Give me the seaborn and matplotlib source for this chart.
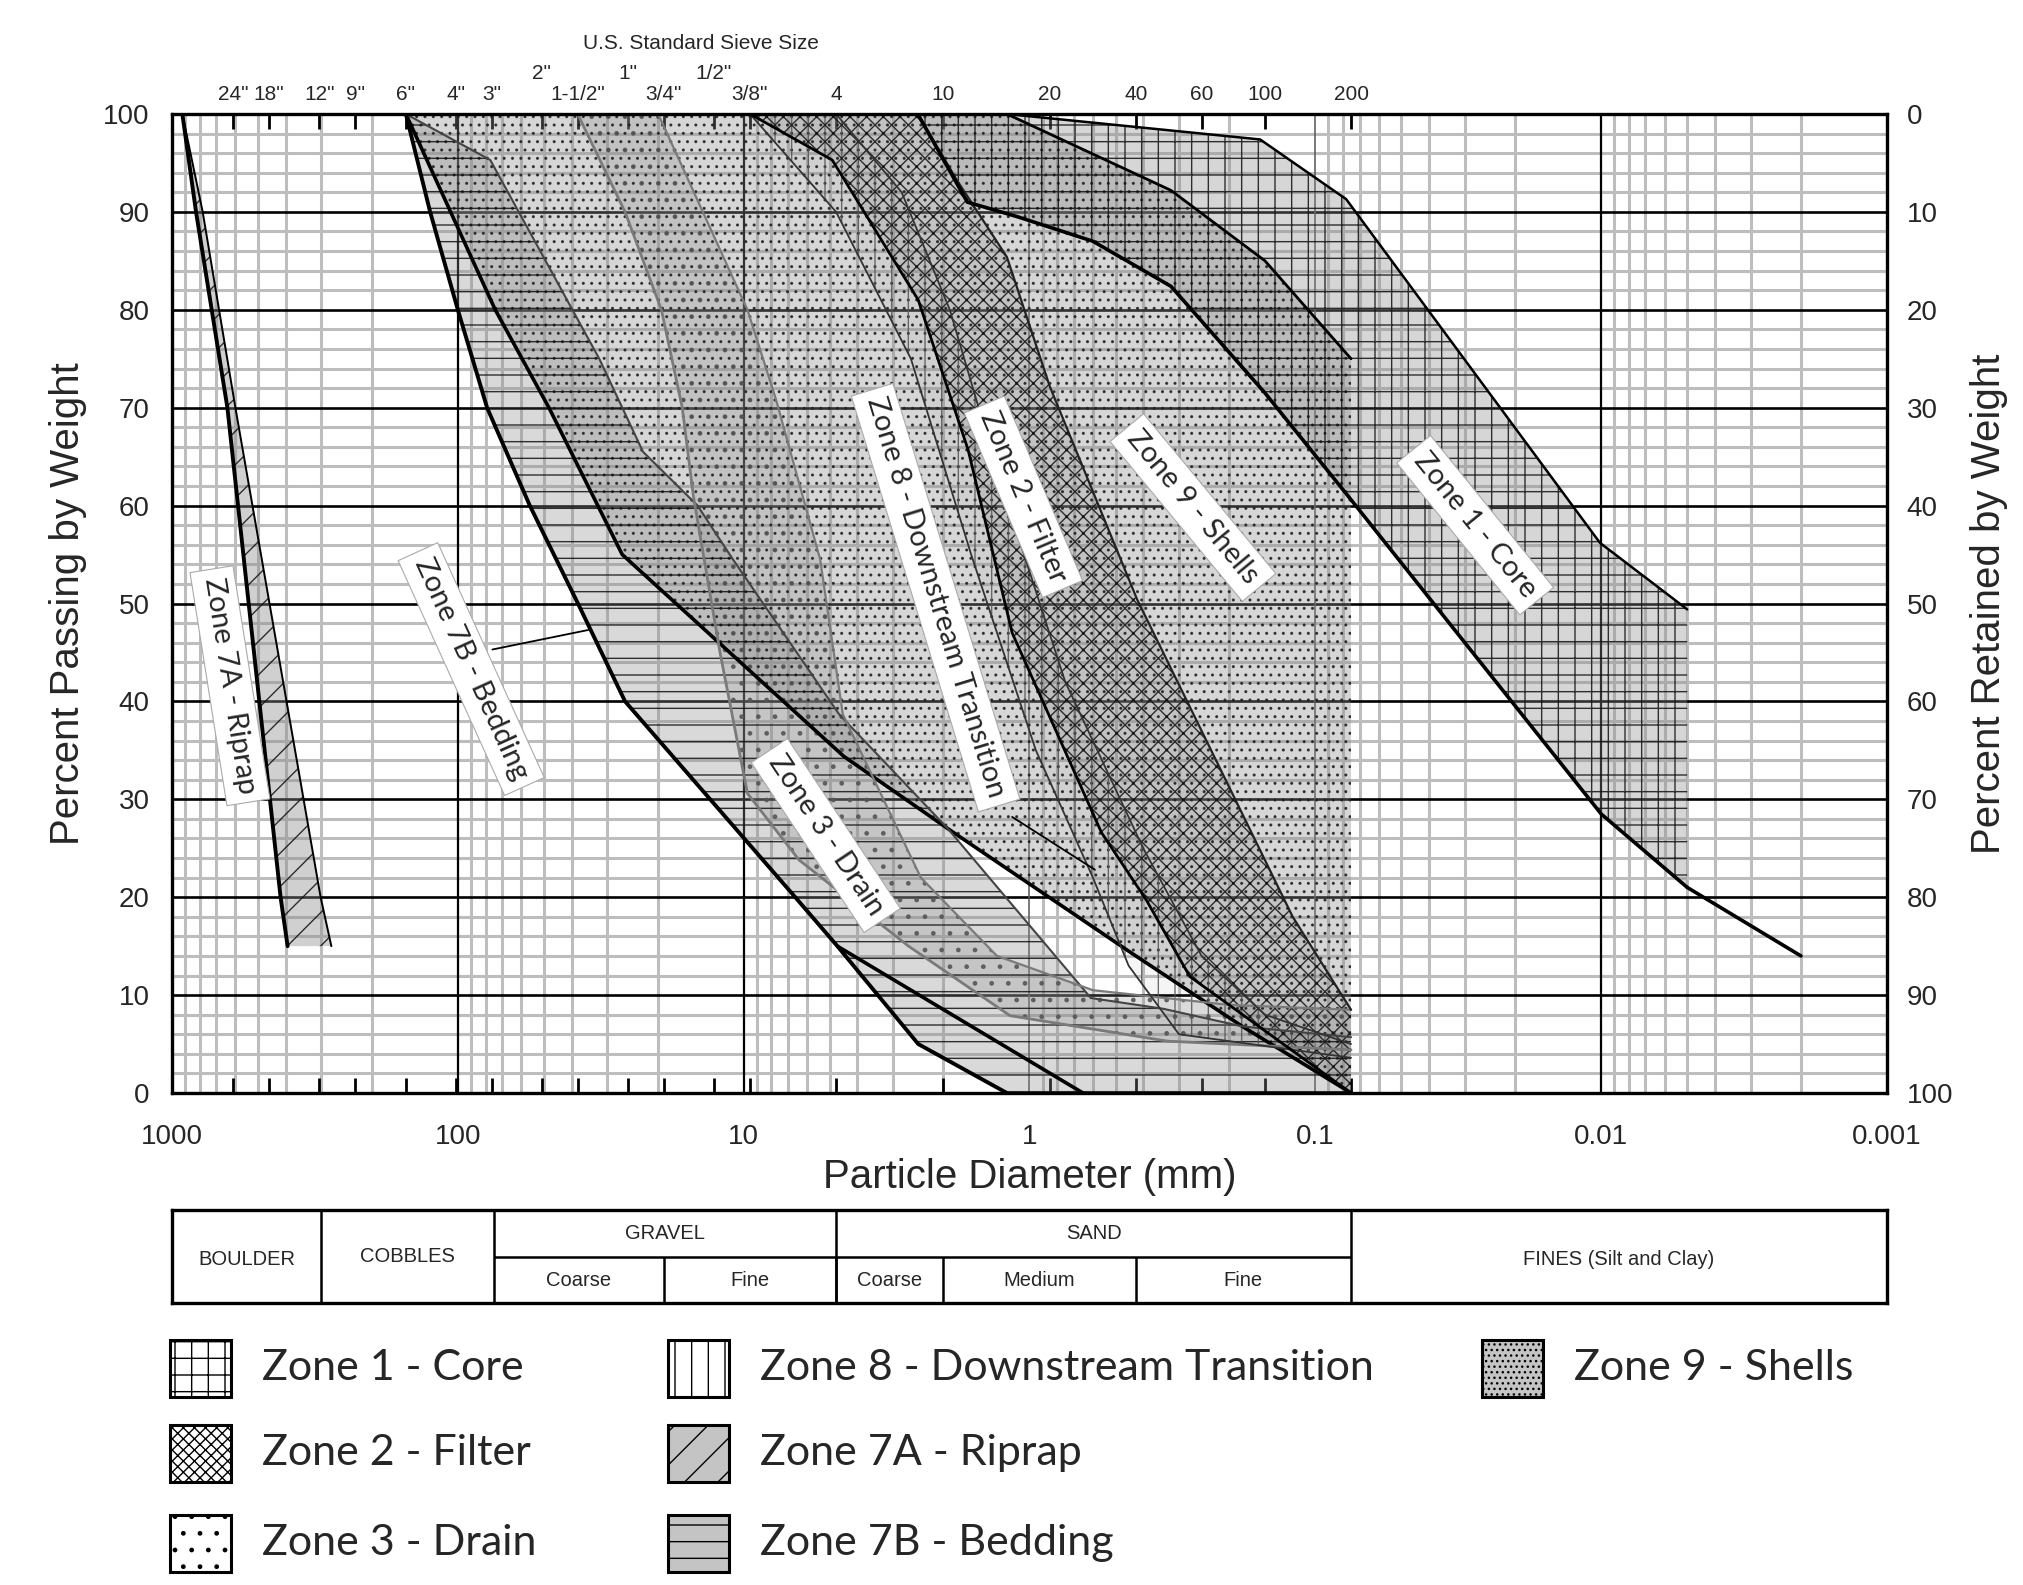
import numpy as np
import seaborn as sns
import matplotlib.pyplot as plt
from matplotlib.patches import Rectangle
from matplotlib.ticker import NullFormatter

sns.set_theme(style='white')
plt.rcParams['font.family'] = ['Liberation Sans', 'DejaVu Sans']
plt.rcParams['hatch.linewidth'] = 1.0
LABEL_FONT = ['Lato', 'DejaVu Sans']

# U.S. standard sieves (top axis)
sieve_labels = ['24"', '18"', '12"', '9"', '6"', '4"', '3"', '2"', '1-1/2"', '1"', '3/4"',
                '1/2"', '3/8"', '4', '10', '20', '40', '60', '100', '200']
sieve_mm = [609.6, 457.2, 304.8, 228.6, 152.4, 101.6, 76.2, 50.8, 38.1, 25.4, 19.05,
            12.7, 9.525, 4.75, 2.0, 0.85, 0.425, 0.25, 0.15, 0.075]
sieve_upper_row = ['2"', '1"', '1/2"']

decade_ticks = [1000, 100, 10, 1, 0.1, 0.01, 0.001]
decade_labels = ['1000', '100', '10', '1', '0.1', '0.01', '0.001']

# zone envelopes: particle diameter (mm) vs percent passing
z7a_coarse_d = [920, 824, 640, 417, 394]
z7a_coarse_p = [100, 90, 70, 20, 15]
z7a_fine_d = [920, 781, 600, 302, 277]
z7a_fine_p = [100, 90, 70, 20, 15]

z7b_coarse_d = [152, 125, 100, 79, 56, 38, 26, 6.6, 4.7, 2.45, 1.2]
z7b_coarse_p = [100, 90, 80, 70, 60, 50, 40, 20, 15, 5, 0]
z7b_fine_d = [152, 77, 32, 22.5, 14.5, 10.9, 4.64, 1.93, 0.61, 0.34, 0.18, 0.075]
z7b_fine_p = [100, 95.3, 75, 65.5, 60, 54.5, 38.7, 27, 9.7, 8.6, 6.8, 5.7]
z7b_inner_d = [4.7, 0.65]
z7b_inner_p = [15, 0]

z3_coarse_d = [38.1, 26, 19.4, 16.4, 15, 12.1, 9.7, 6.4, 2.65, 1.17, 0.33, 0.075]
z3_coarse_p = [100, 90, 80, 70, 61, 45, 30.6, 23.8, 15, 7.9, 5.3, 4.4]
z3_fine_d = [19.9, 9.7, 7.7, 5.4, 4.5, 2.4, 1.3, 0.6, 0.2, 0.075]
z3_fine_p = [100, 80, 70.8, 54.5, 38.7, 22, 14, 10.5, 9, 8.5]

z9_coarse_d = [152, 106, 74, 48, 26.6, 4.47, 1.93, 0.44, 0.18, 0.075]
z9_coarse_p = [100, 90, 80, 70, 55, 34.4, 27, 14.3, 6.8, 0]
z9_fine_d = [1.2, 0.32, 0.15, 0.075]
z9_fine_p = [100, 92.2, 85, 75]

z8_coarse_d = [9.5, 4.75, 2.6, 1.6, 0.95, 0.6, 0.45, 0.3, 0.075]
z8_coarse_p = [100, 90, 75, 55, 35, 22, 13, 6, 3.6]
z8_fine_d = [4.75, 2.8, 1.9, 1.25, 0.75, 0.4, 0.25, 0.15, 0.075]
z8_fine_p = [100, 92, 80, 62, 42, 25, 14, 8, 5]

z2_coarse_d = [9.5, 4.9, 2.45, 1.64, 1.15, 0.56, 0.39, 0.275, 0.075]
z2_coarse_p = [100, 95.3, 81, 65.7, 47, 26.6, 19.7, 11.9, 0]
z2_fine_d = [2.46, 1.8, 1.2, 0.85, 0.42, 0.19, 0.12, 0.075]
z2_fine_p = [100, 93.3, 85.4, 72.2, 50.4, 29.9, 18, 8.5]

z1_coarse_d = [2.46, 1.65, 1.1, 0.6, 0.32, 0.15, 0.075, 0.01, 0.005]
z1_coarse_p = [100, 91, 89.5, 87, 82.4, 71.5, 60.6, 28.5, 21]
z1_fine_d = [1.2, 0.156, 0.078, 0.0101, 0.005]
z1_fine_p = [100, 97.4, 91.3, 56.2, 49.4]
z1_tail_d = [0.005, 0.002]
z1_tail_p = [21, 14]

# soil classification strip
soil_main = ['BOULDER', 'COBBLES', 'GRAVEL', 'SAND', 'FINES (Silt and Clay)']
soil_main_lo = [1000, 300, 75, 4.75, 0.075]
soil_main_hi = [300, 75, 4.75, 0.075, 0.001]
soil_sub = ['Coarse', 'Fine', 'Coarse', 'Medium', 'Fine']
soil_sub_lo = [75, 19, 4.75, 2.0, 0.425]
soil_sub_hi = [19, 4.75, 2.0, 0.425, 0.075]

zones = [
    dict(name='9', cd=z9_coarse_d, cp=z9_coarse_p, fd=z9_fine_d, fp=z9_fine_p, corner=[],
         hatch='..', hc='#222222', alpha=0.35, lc=('black', 2.6), lf=('black', 2.0)),
    dict(name='7B', cd=z7b_coarse_d, cp=z7b_coarse_p, fd=z7b_fine_d, fp=z7b_fine_p,
         corner=[(0.075, 0)], hatch='-', hc='#111111', alpha=0.32,
         lc=('black', 2.8), lf=('#444444', 1.5)),
    dict(name='3', cd=z3_coarse_d, cp=z3_coarse_p, fd=z3_fine_d, fp=z3_fine_p, corner=[],
         hatch='.', hc='#555555', alpha=0.25, lc=('#7a7a7a', 2.0), lf=('#7a7a7a', 1.6)),
    dict(name='8', cd=z8_coarse_d, cp=z8_coarse_p, fd=z8_fine_d, fp=z8_fine_p, corner=[],
         hatch='|', hc='#555555', alpha=0.08, lc=('#333333', 1.3), lf=('#333333', 1.3)),
    dict(name='2', cd=z2_coarse_d, cp=z2_coarse_p, fd=z2_fine_d, fp=z2_fine_p, corner=[],
         hatch='xx', hc='#111111', alpha=0.25, lc=('black', 2.0), lf=('#222222', 1.6)),
    dict(name='1', cd=z1_coarse_d, cp=z1_coarse_p, fd=z1_fine_d, fp=z1_fine_p, corner=[],
         hatch='+', hc='#111111', alpha=0.35, lc=('black', 2.6), lf=('black', 1.8)),
    dict(name='7A', cd=z7a_coarse_d, cp=z7a_coarse_p, fd=z7a_fine_d, fp=z7a_fine_p, corner=[],
         hatch='/', hc='#111111', alpha=0.40, lc=('black', 2.8), lf=('black', 1.4)),
]

fig = plt.figure(figsize=(20.24, 15.85), dpi=100)
ax = fig.add_axes([172 / 2024, 492 / 1585, 1715 / 2024, 979 / 1585])
ax.set_xscale('log')
ax.set_xlim(1000, 0.001)
ax.set_ylim(0, 100)

# graph paper
for dec in decade_ticks[1:]:
    for k in range(2, 10):
        ax.axvline(dec * k, color='#bdbdbd', lw=2.2, zorder=0.5)
for v in range(2, 100, 2):
    if v % 10:
        ax.axhline(v, color='#bdbdbd', lw=2.2, zorder=0.5)
for v in range(10, 100, 10):
    ax.axhline(v, color='black', lw=1.9, zorder=0.7)
for dec in [100, 10, 0.01]:
    ax.axvline(dec, color='black', lw=1.6, zorder=0.7)
for dec in [1, 0.1]:
    ax.axvline(dec, color='#555555', lw=1.1, zorder=0.7)

# zone envelopes
for z in zones:
    poly_d = list(z['cd']) + [c[0] for c in z['corner']] + list(z['fd'])[::-1]
    poly_p = list(z['cp']) + [c[1] for c in z['corner']] + list(z['fp'])[::-1]
    ax.fill(poly_d, poly_p, facecolor='#8a8a8a', alpha=z['alpha'], lw=0, zorder=1)
    ax.fill(poly_d, poly_p, facecolor='none', edgecolor=z['hc'], hatch=z['hatch'],
            lw=0, alpha=0.85, zorder=1.5)
    sns.lineplot(x=z['cd'], y=z['cp'], sort=False, estimator=None, ax=ax,
                 color=z['lc'][0], linewidth=z['lc'][1], zorder=3)
    sns.lineplot(x=z['fd'], y=z['fp'], sort=False, estimator=None, ax=ax,
                 color=z['lf'][0], linewidth=z['lf'][1], zorder=3)
sns.lineplot(x=z7b_inner_d, y=z7b_inner_p, sort=False, estimator=None, ax=ax,
             color='black', linewidth=2.6, zorder=3)
sns.lineplot(x=z1_tail_d, y=z1_tail_p, sort=False, estimator=None, ax=ax,
             color='black', linewidth=2.6, zorder=3)

# zone labels
zone_text = ['Zone 7A - Riprap', 'Zone 7B - Bedding', 'Zone 3 - Drain',
             'Zone 8 - Downstream Transition', 'Zone 2 - Filter', 'Zone 9 - Shells', 'Zone 1 - Core']
zone_text_d = [627, 89.8, 5.16, 2.13, 1.05, 0.268, 0.0276]
zone_text_p = [41.6, 43.3, 26.3, 50.6, 60.9, 59.8, 58]
zone_text_rot = [-81, -65.6, -56.4, -73, -67, -50.4, -51]
for t, d, p, r in zip(zone_text, zone_text_d, zone_text_p, zone_text_rot):
    ax.text(d, p, t, rotation=r, rotation_mode='anchor', ha='center', va='center',
            fontsize=21, family=LABEL_FONT, zorder=6,
            bbox=dict(boxstyle='square,pad=0.3', fc='white', ec='#aaaaaa', lw=0.8))
ax.plot([75.7, 34.9], [45.3, 47.3], color='black', lw=1.3, zorder=5)
ax.plot([1.15, 0.59], [28.2, 22.8], color='black', lw=1.3, zorder=5)

# axes, ticks
for s in ax.spines.values():
    s.set_color('black')
    s.set_linewidth(2.4)
    s.set_zorder(7)
ax.set_xticks(decade_ticks)
ax.set_xticklabels(decade_labels)
ax.set_xticks(sieve_mm, minor=True)
ax.xaxis.set_minor_formatter(NullFormatter())
ax.tick_params(axis='x', which='major', length=0, pad=22, labelsize=20)
ax.tick_params(axis='x', which='minor', direction='in', length=11, width=2,
               top=True, bottom=True, color='black')
ax.set_yticks(range(0, 101, 10))
ax.tick_params(axis='y', which='both', length=0, pad=16, labelsize=20)
ax.set_xlabel('Particle Diameter (mm)', fontsize=29, labelpad=6)
ax.set_ylabel('Percent Passing by Weight', fontsize=29, labelpad=12)

ax2 = ax.twinx()
ax2.set_ylim(100, 0)
ax2.set_yticks(range(0, 101, 10))
ax2.tick_params(axis='y', length=0, pad=14, labelsize=20)
ax2.set_ylabel('Percent Retained by Weight', fontsize=29, labelpad=12)
for s in ax2.spines.values():
    s.set_visible(False)

xax = ax.get_xaxis_transform()
for lab, d in zip(sieve_labels, sieve_mm):
    yy = 1.041 if lab in sieve_upper_row else 1.0204
    ax.text(d, yy, lab, transform=xax, ha='center', va='center', fontsize=15)
ax.text(14.1, 1.0725, 'U.S. Standard Sieve Size', transform=xax, ha='center',
        va='center', fontsize=15)

# classification strip
tax = fig.add_axes([172 / 2024, 282 / 1585, 1715 / 2024, 93 / 1585])
tax.set_xscale('log')
tax.set_xlim(1000, 0.001)
tax.set_ylim(0, 1)
tax.set_xticks([])
tax.set_yticks([])
tax.xaxis.set_minor_formatter(NullFormatter())
tax.tick_params(which='both', length=0)
for s in tax.spines.values():
    s.set_color('black')
    s.set_linewidth(2.4)
tax.vlines([300, 75, 4.75, 0.075], 0, 1, color='black', lw=1.8)
tax.vlines(soil_sub_lo[1:], 0, 0.5, color='black', lw=1.8)
tax.hlines(0.5, 75, 0.075, color='black', lw=1.8)
main_y = [0.47, 0.5, 0.75, 0.75, 0.47]
for name, lo, hi, yy in zip(soil_main, soil_main_lo, soil_main_hi, main_y):
    tax.text(np.sqrt(lo * hi), yy, name, ha='center', va='center', fontsize=14.5)
for name, lo, hi in zip(soil_sub, soil_sub_lo, soil_sub_hi):
    tax.text(np.sqrt(lo * hi), 0.24, name, ha='center', va='center', fontsize=14.5)

# pattern legend
lax = fig.add_axes([0, 0, 1, 1], zorder=-1)
lax.set_xlim(0, 2024)
lax.set_ylim(1585, 0)
lax.axis('off')
legend_names = ['Zone 1 - Core', 'Zone 2 - Filter', 'Zone 3 - Drain',
                'Zone 8 - Downstream Transition', 'Zone 7A - Riprap', 'Zone 7B - Bedding',
                'Zone 9 - Shells']
legend_hatch = ['+', 'xxx', '.', '|', '/', '-', '...']
legend_face = ['white', 'white', 'white', 'white', '#c4c4c4', '#c4c4c4', '#c4c4c4']
legend_col_x = [170, 170, 170, 668, 668, 668, 1482]
legend_row_y = [1368, 1453, 1543, 1368, 1453, 1543, 1368]
for name, h, fc, x0, y0 in zip(legend_names, legend_hatch, legend_face, legend_col_x, legend_row_y):
    lax.add_patch(Rectangle((x0, y0 - 28), 61, 57, facecolor=fc, edgecolor='black',
                            hatch=h, lw=2.2))
    lax.text(x0 + 92, y0, name, ha='left', va='center', fontsize=31, family=LABEL_FONT)

fig.savefig('out.png', dpi=100, facecolor='white')
